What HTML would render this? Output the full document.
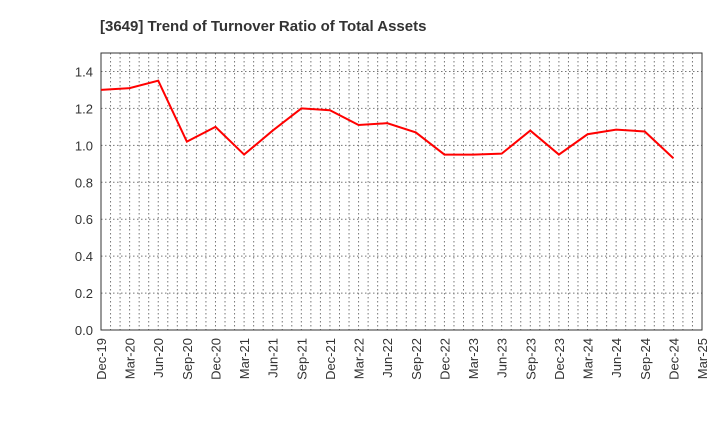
<!DOCTYPE html>
<html><head><meta charset="utf-8"><style>
body{margin:0;background:#fff;font-family:"Liberation Sans",sans-serif;}
</style></head><body>
<svg id="chart" width="720" height="440" xmlns="http://www.w3.org/2000/svg">
<text x="100" y="31" font-size="15" font-weight="bold" fill="#333">[3649]  Trend of Turnover Ratio of Total Assets</text>
<g id="grid"></g><g id="axes"></g><g id="series"></g>
</svg>
<script>
const categories=["Dec-19","Mar-20","Jun-20","Sep-20","Dec-20","Mar-21","Jun-21","Sep-21","Dec-21","Mar-22","Jun-22","Sep-22","Dec-22","Mar-23","Jun-23","Sep-23","Dec-23","Mar-24","Jun-24","Sep-24","Dec-24","Mar-25"];
const values=[1.30,1.31,1.35,1.02,1.10,0.95,1.08,1.20,1.19,1.11,1.12,1.07,0.95,0.95,0.955,1.08,0.95,1.06,1.085,1.075,0.93];
const yTicks=[0,0.2,0.4,0.6,0.8,1.0,1.2,1.4];
const L=101,R=702,T=53,B=330,yMax=1.5;
const ns="http://www.w3.org/2000/svg";
const xs=i=>L+(R-L)*i/(categories.length-1);
const ys=v=>B-(B-T)*v/yMax;
function mk(tag,attrs,parent){const e=document.createElementNS(ns,tag);for(const k in attrs)e.setAttribute(k,attrs[k]);parent.appendChild(e);return e;}
const grid=document.getElementById('grid'),axes=document.getElementById('axes'),series=document.getElementById('series');
const nMonths=(categories.length-1)*3;
for(let m=1;m<nMonths;m++){const x=L+(R-L)*m/nMonths;
const l=mk('line',{x1:x,x2:x,y1:T,y2:B,stroke:'#777','stroke-dasharray':'1.5,2.5','stroke-width':1},grid);

}
yTicks.forEach(v=>{const y=ys(v);
const l=mk('line',{x1:L,x2:R,y1:y,y2:y,stroke:'#777','stroke-dasharray':'1.5,2.5','stroke-width':1},grid);


const t=mk('text',{x:L-8,y:y+5,'text-anchor':'end','font-size':13,fill:'#333'},axes);t.textContent=v.toFixed(1);

});
categories.forEach((c,i)=>{const x=xs(i);
const t=mk('text',{x:x+5,y:B+8,'text-anchor':'end','font-size':13,fill:'#333',transform:`rotate(-90 ${x+5} ${B+8})`},axes);t.textContent=c;

});
const fr=mk('rect',{x:L,y:T,width:R-L,height:B-T,fill:'none',stroke:'#333','stroke-width':1},axes);


const p=mk('polyline',{points:values.map((v,i)=>xs(i)+','+ys(v)).join(' '),fill:'none',stroke:'#ff0000','stroke-width':2},series);


</script>
</body></html>
